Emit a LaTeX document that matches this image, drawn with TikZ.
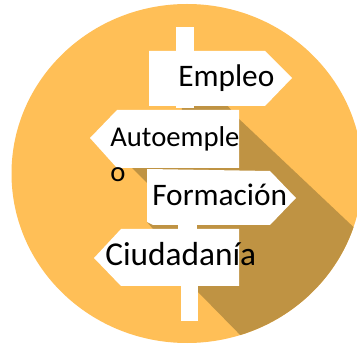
\documentclass[tikz,border=0pt]{standalone}
\usepackage{fontspec}
\setmainfont{Carlito}
\definecolor{disccolor}{HTML}{FFBF57}
\definecolor{shadowcolor}{HTML}{BF9343}
\tikzset{
  sign/.style={fill=white,draw=none},
  signtext/.style={inner sep=0pt,anchor=base west,text=black,font=\fontsize{#1}{29}\selectfont},
  smalltext/.style={inner sep=0pt,anchor=base west,text=black,font=\fontsize{21.5}{26.25}\selectfont}
}
\begin{document}
\begin{tikzpicture}[x=0.75pt,y=-0.75pt]
\useasboundingbox (0,0) rectangle (357,345);
\fill[white] (0,0) rectangle (357,345);
\begin{scope}
  \clip (0,0) rectangle (357,345);
  \fill[disccolor] (187,173.5) ellipse[x radius=175.5,y radius=169.5];
  \clip (187,173.5) ellipse[x radius=175.5,y radius=169.5];
  \fill[shadowcolor] (182,104) -- (226,104) -- (238,118) -- (400,271) -- (400,345) -- (250,345) -- (198,292) -- (180,270) -- (180,229) -- (153,229) -- (147,222) -- (147,183) -- (132,168) -- (180,160) -- cycle;
\end{scope}
% sign posts
\fill[sign] (176,27) rectangle (194,108);
\fill[sign] (178,224) rectangle (197,231);
\fill[sign] (181,284) rectangle (198,321);
% sign boards
\fill[sign] (149,51) -- (265,51) -- (292,78) -- (265,106) -- (149,106) -- cycle;
\fill[sign] (90,138) -- (117,110) -- (239,110) -- (239,168) -- (117,168) -- cycle;
\fill[sign] (147,169) -- (270,171) -- (296,198) -- (270,225) -- (153,225) -- (147,222) -- cycle;
\fill[sign] (94,258) -- (121,229) -- (239,229) -- (239,286) -- (121,286) -- cycle;
% labels
\node[signtext=23.5] (empleo) at (178,87) {Empleo};
\node[smalltext,align=left] (auto) at (110,182) {Autoemple\\o};
\node[signtext=23.5] (formacion) at (152,206) {Formación};
\node[signtext=25] (ciudadania) at (105,266) {Ciudadanía};
\end{tikzpicture}
\end{document}
